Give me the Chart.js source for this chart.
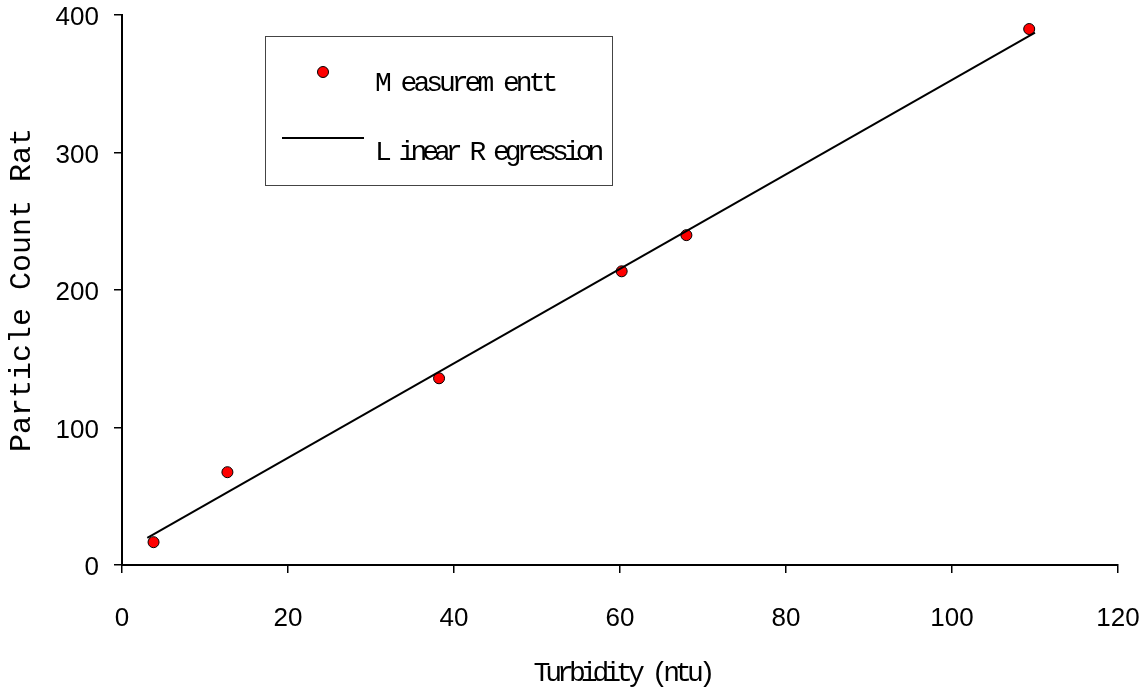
<!DOCTYPE html>
<html>
<head>
<meta charset="utf-8">
<title>Particle Count Rate vs Turbidity</title>
<script src="https://cdn.jsdelivr.net/npm/chart.js@4/dist/chart.umd.min.js"></script>
<style>
  html, body { margin: 0; padding: 0; background: #ffffff; }
  #wrap { width: 1146px; height: 687px; position: relative; }
</style>
</head>
<body>
<div id="wrap"><canvas id="chart"></canvas></div>
<script>
// Measured samples
const turbidity = [3.8, 12.7, 38.2, 60.2, 68.0, 109.3];
const countRate = [16.6, 67.5, 135.8, 213.6, 239.9, 389.8];

// Fitted regression line (end points)
const fitTurbidity = [3.05, 110.0];
const fitCountRate = [19.8, 387.1];

// Axis ticks and texts
const xTickValues = [0, 20, 40, 60, 80, 100, 120];
const yTickValues = [0, 100, 200, 300, 400];
const seriesNames = ['M easurem entt', 'L inear R egression'];
const xAxisTitle = 'Turbidity (ntu)';
const yAxisTitle = 'Particle Count Rat';

const toPoints = (xs, ys) => xs.map((x, i) => ({ x: x, y: ys[i] }));

// Boxed legend plus the condensed x-axis caption
const legendAndCaption = {
  id: 'legendAndCaption',
  afterDraw(chart) {
    const ctx = chart.ctx;
    const ds = chart.data.datasets;
    const area = chart.chartArea;
    ctx.save();
    ctx.fillStyle = '#ffffff';
    ctx.fillRect(265.5, 36.5, 347, 149);
    ctx.strokeStyle = '#444444';
    ctx.lineWidth = 1;
    ctx.strokeRect(265.5, 36.5, 347, 149);

    // marker sample
    ctx.beginPath();
    ctx.arc(323, 72, ds[0].pointRadius, 0, Math.PI * 2);
    ctx.fillStyle = ds[0].backgroundColor;
    ctx.fill();
    ctx.lineWidth = ds[0].borderWidth;
    ctx.strokeStyle = ds[0].borderColor;
    ctx.stroke();

    // line sample
    ctx.beginPath();
    ctx.moveTo(282, 138);
    ctx.lineTo(364, 138);
    ctx.lineWidth = ds[1].borderWidth;
    ctx.strokeStyle = ds[1].borderColor;
    ctx.stroke();

    ctx.font = '28px "Liberation Mono"';
    ctx.fillStyle = '#000000';
    ctx.textAlign = 'left';
    ctx.textBaseline = 'alphabetic';
    ctx.letterSpacing = '-4px';
    ctx.fillText(ds[0].label, 375, 91);
    ctx.letterSpacing = '-5px';
    ctx.fillText(ds[1].label, 375, 160);

    ctx.textAlign = 'center';
    ctx.fillText(xAxisTitle, (area.left + area.right) / 2 + 2, 681);
    ctx.restore();
  }
};

const ctx = document.getElementById('chart').getContext('2d');
new Chart(ctx, {
  type: 'scatter',
  data: {
    datasets: [
      {
        label: seriesNames[0],
        data: toPoints(turbidity, countRate),
        backgroundColor: '#ff0000',
        borderColor: '#000000',
        borderWidth: 1,
        pointRadius: 5.5,
        pointHoverRadius: 5.5,
        showLine: false,
        order: 2
      },
      {
        label: seriesNames[1],
        type: 'line',
        data: toPoints(fitTurbidity, fitCountRate),
        borderColor: '#000000',
        backgroundColor: '#000000',
        borderWidth: 2,
        pointRadius: 0,
        fill: false,
        tension: 0,
        order: 1
      }
    ]
  },
  options: {
    responsive: true,
    maintainAspectRatio: false,
    animation: false,
    devicePixelRatio: 1,
    layout: { padding: 0 },
    plugins: {
      legend: { display: false },
      tooltip: { enabled: false },
      title: { display: false }
    },
    scales: {
      x: {
        type: 'linear',
        min: 0,
        max: 120,
        afterBuildTicks: (scale) => { scale.ticks = xTickValues.map(v => ({ value: v })); },
        afterFit: (scale) => {
          scale.height = 122;
          scale.paddingLeft = 0;
          scale.paddingRight = 28;
        },
        border: { display: true, color: '#000000', width: 2 },
        grid: {
          display: true,
          drawOnChartArea: false,
          drawTicks: true,
          tickLength: 8,
          tickWidth: 1.5,
          tickColor: '#000000',
          lineWidth: 1.5,
          color: '#000000'
        },
        ticks: {
          color: '#000000',
          font: { family: '"Liberation Sans"', size: 26 },
          padding: 30,
          maxRotation: 0
        },
        title: { display: false }
      },
      y: {
        type: 'linear',
        min: 0,
        max: 400,
        afterBuildTicks: (scale) => { scale.ticks = yTickValues.map(v => ({ value: v })); },
        afterFit: (scale) => {
          scale.width = 122;
          scale.paddingTop = 15;
          scale.paddingBottom = 0;
        },
        border: { display: true, color: '#000000', width: 2 },
        grid: {
          display: true,
          drawOnChartArea: false,
          drawTicks: true,
          tickLength: 8,
          tickWidth: 1.5,
          tickColor: '#000000',
          lineWidth: 1.5,
          color: '#000000'
        },
        ticks: {
          color: '#000000',
          font: { family: '"Liberation Sans"', size: 26 },
          padding: 15,
          labelOffset: 3
        },
        title: {
          display: true,
          text: yAxisTitle,
          color: '#000000',
          font: { family: '"Liberation Mono"', size: 30 },
          padding: { top: 4, bottom: 0 }
        }
      }
    }
  },
  plugins: [legendAndCaption]
});
</script>
</body>
</html>
